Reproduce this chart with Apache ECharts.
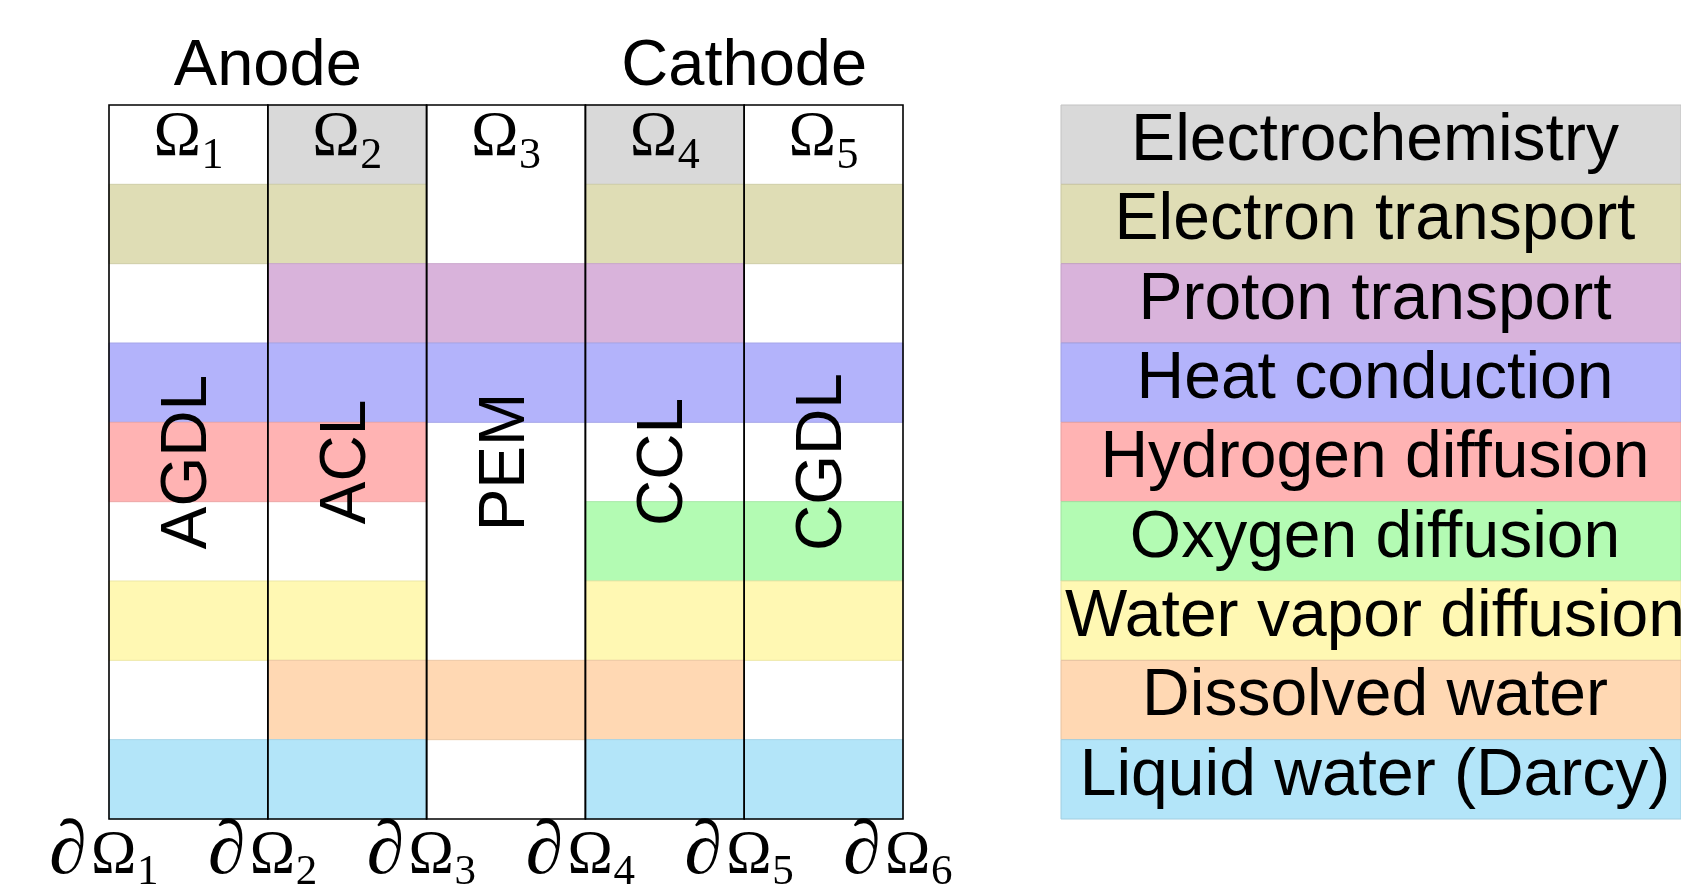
<!DOCTYPE html>
<html><head><meta charset="utf-8">
<script src="https://cdn.jsdelivr.net/npm/echarts@6/dist/echarts.min.js"></script>
<style>html,body{margin:0;padding:0;background:#fff}#c{width:1681px;height:890px}</style>
</head><body><div id="c"></div>
<script>
// ---- data ----
const layers = ['AGDL', 'ACL', 'PEM', 'CCL', 'CGDL'];
const domainSubs = ['1', '2', '3', '4', '5'];
const boundarySubs = ['1', '2', '3', '4', '5', '6'];
const sides = ['Anode', 'Cathode'];
const sideBoundaries = [1, 4];
const physics = ['Electrochemistry', 'Electron transport', 'Proton transport', 'Heat conduction',
  'Hydrogen diffusion', 'Oxygen diffusion', 'Water vapor diffusion', 'Dissolved water', 'Liquid water (Darcy)'];
const physicsColors = ['#d9d9d9', '#dfddb5', '#d9b3db', '#b3b3fb', '#ffb3b3', '#b3fbb3', '#fff8b3', '#ffd8b3', '#b3e5f9'];
// 1 = physics solved in layer (AGDL, ACL, PEM, CCL, CGDL)
const electrochemistry    = [0, 1, 0, 1, 0];
const electronTransport   = [1, 1, 0, 1, 1];
const protonTransport     = [0, 1, 1, 1, 0];
const heatConduction      = [1, 1, 1, 1, 1];
const hydrogenDiffusion   = [1, 1, 0, 0, 0];
const oxygenDiffusion     = [0, 0, 0, 1, 1];
const waterVaporDiffusion = [1, 1, 0, 1, 1];
const dissolvedWater      = [0, 1, 1, 1, 0];
const liquidWater         = [1, 1, 0, 1, 1];
const physicsActive = [electrochemistry, electronTransport, protonTransport, heatConduction,
  hydrogenDiffusion, oxygenDiffusion, waterVaporDiffusion, dissolvedWater, liquidWater];

// ---- build ----
function darken(hex, f) {
  const n = parseInt(hex.slice(1), 16);
  const r = Math.round(((n >> 16) & 255) * f), g = Math.round(((n >> 8) & 255) * f), b = Math.round((n & 255) * f);
  return 'rgb(' + r + ',' + g + ',' + b + ')';
}
const cellData = [];
physicsActive.forEach((row, r) => row.forEach((on, c) => { if (on) cellData.push([c, r]); }));
const nRows = physics.length, nCols = layers.length;

const SANS = '"Liberation Sans", Arial, sans-serif';
const SERIF = '"Liberation Serif", "Times New Roman", serif';

const chart = echarts.init(document.getElementById('c'), null, { renderer: 'canvas' });
chart.setOption({
  animation: false,
  backgroundColor: '#ffffff',
  grid: [
    { left: 109, top: 105, width: 794, height: 714 },
    { left: 1061, top: 105, width: 638, height: 714 }
  ],
  xAxis: [
    { type: 'value', gridIndex: 0, min: 0, max: nCols, show: false },
    { type: 'value', gridIndex: 1, min: 0, max: 1, show: false }
  ],
  yAxis: [
    { type: 'value', gridIndex: 0, min: 0, max: nRows, inverse: true, show: false },
    { type: 'value', gridIndex: 1, min: 0, max: nRows, inverse: true, show: false }
  ],
  series: [
    { // coloured cells
      type: 'custom', xAxisIndex: 0, yAxisIndex: 0, z: 1,
      encode: { x: 0, y: 1 },
      data: cellData,
      renderItem: (params, api) => {
        const c = api.value(0), r = api.value(1);
        const p0 = api.coord([c, r]), p1 = api.coord([c + 1, r + 1]);
        const col = physicsColors[r];
        return { type: 'rect', shape: { x: p0[0], y: p0[1], width: p1[0] - p0[0], height: p1[1] - p0[1] },
          style: { fill: col, stroke: darken(col, 0.93), lineWidth: 1 } };
      }
    },
    { // column frames
      type: 'custom', xAxisIndex: 0, yAxisIndex: 0, z: 3,
      encode: { x: 0, y: 1 },
      data: layers.map((n, c) => [c, 0]),
      renderItem: (params, api) => {
        const c = api.value(0);
        const p0 = api.coord([c, 0]), p1 = api.coord([c + 1, nRows]);
        return { type: 'rect', shape: { x: p0[0], y: p0[1], width: p1[0] - p0[0], height: p1[1] - p0[1] },
          style: { fill: 'none', stroke: '#000', lineWidth: 1.6 } };
      }
    },
    { // layer names (vertical)
      type: 'custom', xAxisIndex: 0, yAxisIndex: 0, z: 4,
      encode: { x: 0, y: 1 },
      data: layers.map((n, c) => [c, nRows / 2]),
      renderItem: (params, api) => {
        const c = api.value(0);
        const p = api.coord([c + 0.5, api.value(1)]);
        return { type: 'text', x: p[0], y: p[1], rotation: Math.PI / 2,
          style: { text: layers[c], font: '64px ' + SANS, fill: '#000', align: 'center', verticalAlign: 'middle' } };
      }
    },
    { // domain labels Omega_i
      type: 'custom', xAxisIndex: 0, yAxisIndex: 0, z: 4,
      encode: { x: 0, y: 1 },
      data: domainSubs.map((s, c) => [c, 0.5]),
      renderItem: (params, api) => {
        const c = api.value(0);
        const p = api.coord([c + 0.5, api.value(1)]);
        return { type: 'group', children: [
          { type: 'text', x: p[0] - 35, y: p[1] - 6,
            style: { text: 'Ω', font: '64px ' + SERIF, fill: '#000', align: 'left', verticalAlign: 'middle' } },
          { type: 'text', x: p[0] + 13, y: p[1] + 12,
            style: { text: domainSubs[c], font: '44px ' + SERIF, fill: '#000', align: 'left', verticalAlign: 'middle' } }
        ] };
      }
    },
    { // boundary labels dOmega_i
      type: 'custom', xAxisIndex: 0, yAxisIndex: 0, z: 4,
      encode: { x: 0, y: 1 },
      data: boundarySubs.map((s, b) => [b, nRows]),
      renderItem: (params, api) => {
        const b = api.value(0);
        const p = api.coord([b, api.value(1)]);
        return { type: 'group', children: [
          { type: 'text', x: p[0] - 60, y: p[1] + 34,
            style: { text: '∂', font: 'italic 76px ' + SERIF, fill: '#000', align: 'left', verticalAlign: 'middle' } },
          { type: 'text', x: p[0] - 18, y: p[1] + 37,
            style: { text: 'Ω', font: '61px ' + SERIF, fill: '#000', align: 'left', verticalAlign: 'middle' } },
          { type: 'text', x: p[0] + 28, y: p[1] + 54,
            style: { text: boundarySubs[b], font: '43px ' + SERIF, fill: '#000', align: 'left', verticalAlign: 'middle' } }
        ] };
      }
    },
    { // side titles
      type: 'custom', xAxisIndex: 0, yAxisIndex: 0, z: 4,
      encode: { x: 0, y: 1 },
      data: sides.map((s, i) => [sideBoundaries[i], 0, i]),
      renderItem: (params, api) => {
        const p = api.coord([api.value(0), api.value(1)]);
        return { type: 'text', x: p[0], y: p[1] - 38,
          style: { text: sides[api.value(2)], font: '65px ' + SANS, fill: '#000', align: 'center', verticalAlign: 'middle' } };
      }
    },
    { // legend table
      type: 'custom', xAxisIndex: 1, yAxisIndex: 1, z: 2,
      encode: { x: 0, y: 1 },
      data: physics.map((n, i) => [0, i]),
      renderItem: (params, api) => {
        const r = api.value(1);
        const p0 = api.coord([0, r]), p1 = api.coord([1, r + 1]);
        const col = physicsColors[r];
        return { type: 'group', children: [
          { type: 'rect', shape: { x: p0[0], y: p0[1], width: p1[0] - p0[0], height: p1[1] - p0[1] },
            style: { fill: col, stroke: darken(col, 0.9), lineWidth: 1 } },
          { type: 'text', x: (p0[0] + p1[0]) / 2 + 4, y: (p0[1] + p1[1]) / 2 - 3,
            style: { text: physics[r], font: '66px ' + SANS, fill: '#000', align: 'center', verticalAlign: 'middle' } }
        ] };
      }
    }
  ]
});
</script></body></html>
